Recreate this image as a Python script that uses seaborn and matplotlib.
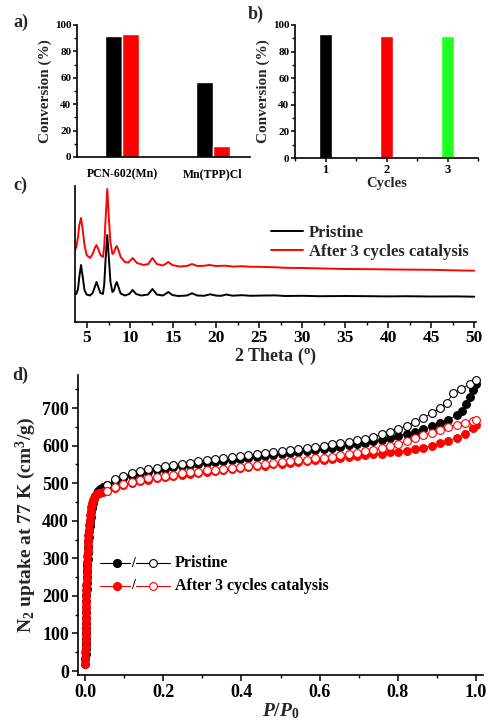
import numpy as np
import pandas as pd
import matplotlib
matplotlib.use("Agg")
import matplotlib.pyplot as plt
from matplotlib.ticker import MultipleLocator
import seaborn as sns

# ---------------- data ----------------
# panel a
catalysts = ["PCN-602(Mn)", "Mn(TPP)Cl"]
conv_black = [92, 57]
conv_red = [93, 8]

# panel b
cycles = ["1", "2", "3"]
cycle_conv = [93, 92, 92]

# panel c (PXRD, arbitrary intensity)
tt_pristine = [3.6, 3.75, 3.95, 4.1, 4.3, 4.5, 4.7, 4.95, 5.35, 5.65, 5.9, 6.1, 6.3, 6.55, 6.85,
               7.0, 7.15, 7.35, 7.55, 7.72, 7.95, 8.15, 8.3, 8.45, 8.65, 8.9, 9.4, 9.9, 10.3, 10.7,
               11.3, 12.1, 12.6, 13.1, 13.8, 14.1, 14.45, 14.9, 15.6, 16.6, 17.2, 17.8, 18.6,
               19.3, 20.0, 20.6, 21.2, 21.9, 23.0, 24.0, 25.0, 26.9, 28.0, 30.0, 32.0, 35.0,
               38.0, 40.0, 42.0, 45.0, 48.0, 50.0]
int_pristine = [28, 28, 33, 45, 57, 45, 32, 27.5, 26.5, 29, 35, 40, 35, 29, 28,
                38, 62, 87, 62, 40, 30, 32, 37, 40, 35, 28.5, 26.5, 28, 32, 28,
                26.5, 27.5, 33, 27.5, 26.5, 28, 30, 27, 26, 26.5, 28.7, 26.5, 26.2,
                27.7, 26.4, 26.2, 27.5, 26.3, 26.8, 26.2, 26.4, 26.6, 26.0, 26.2, 25.8, 26.0,
                25.8, 25.6, 25.8, 25.5, 25.6, 25.3]
tt_after = [3.6, 3.75, 3.95, 4.1, 4.3, 4.5, 4.7, 4.95, 5.35, 5.65, 5.9, 6.1, 6.3, 6.55, 6.85,
            7.0, 7.15, 7.35, 7.55, 7.72, 7.95, 8.15, 8.3, 8.45, 8.65, 8.9, 9.4, 9.8, 10.3, 10.8,
            11.6, 12.1, 12.6, 13.1, 13.8, 14.1, 14.45, 14.9, 15.7, 16.6, 17.2, 17.8, 18.6,
            19.2, 20.0, 21.1, 22.0, 23.0, 24.0, 25.0, 26.9, 28.0, 30.0, 32.0, 35.0,
            38.0, 40.0, 42.0, 45.0, 48.0, 50.0]
int_after = [72, 75, 85, 97, 104, 92, 77, 67, 64, 68, 74, 77, 73, 67, 65,
             76, 102, 133, 102, 79, 68, 70, 74, 76, 72, 65, 60, 59.5, 64, 59,
             57, 58, 64, 58, 56.5, 58, 60, 57, 55.5, 56, 58, 56, 56.2,
             57, 56, 56.3, 55.4, 55.8, 55.2, 55.2, 54.7, 54.2, 54.0, 53.6, 53.0,
             52.8, 52.6, 52.4, 52.2, 51.6, 51.3]

# panel d (N2 isotherms at 77 K)
p_ads_pristine = [0.0008, 0.001, 0.0012, 0.0014, 0.0016, 0.0018, 0.002, 0.0022, 0.0024, 0.0026,
                  0.0028, 0.003, 0.0033, 0.0036, 0.004, 0.0044, 0.0048, 0.0053, 0.0058, 0.0064,
                  0.007, 0.0078, 0.0086, 0.0095, 0.0105, 0.0118, 0.013, 0.0145, 0.016, 0.018,
                  0.02, 0.023, 0.026, 0.03, 0.034, 0.039, 0.045, 0.055,
                  0.077, 0.098, 0.119, 0.141, 0.162, 0.183, 0.204, 0.226, 0.247, 0.268, 0.290,
                  0.311, 0.332, 0.354, 0.375, 0.396, 0.418, 0.439, 0.460, 0.482, 0.503, 0.524,
                  0.546, 0.567, 0.588, 0.610, 0.631, 0.652, 0.674, 0.695, 0.716, 0.737, 0.759,
                  0.780, 0.801, 0.823, 0.844, 0.865, 0.887, 0.908, 0.929, 0.951, 0.965, 0.975,
                  0.985, 0.993, 1.0]
v_ads_pristine = [20, 32, 45, 58, 72, 86, 100, 114, 128, 142,
                  156, 170, 186, 202, 218, 234, 250, 266, 282, 298,
                  314, 330, 345, 358, 372, 386, 398, 411, 423, 435,
                  446, 457, 466, 474, 480, 485, 490, 495,
                  505, 513, 520, 526, 531, 535, 539, 542, 545, 548, 551,
                  553, 556, 559, 561, 564, 567, 570, 572, 575, 577, 580,
                  582, 585, 588, 591, 594, 597, 601, 604, 607, 611, 615,
                  620, 626, 632, 637, 643, 651, 660, 669, 681, 693, 710,
                  730, 748, 763]
p_des_pristine = [0.055, 0.077, 0.098, 0.119, 0.141, 0.162, 0.183, 0.204, 0.226, 0.247, 0.268,
                  0.290, 0.311, 0.332, 0.354, 0.375, 0.396, 0.418, 0.439, 0.460, 0.482, 0.503,
                  0.524, 0.546, 0.567, 0.588, 0.610, 0.631, 0.652, 0.674, 0.695, 0.716, 0.737,
                  0.759, 0.780, 0.801, 0.823, 0.844, 0.865, 0.887, 0.908, 0.925, 0.942, 0.963,
                  0.985, 1.0]
v_des_pristine = [495, 510, 518, 526, 532, 537, 541, 545, 549, 552, 555,
                  558, 561, 564, 567, 570, 572, 575, 578, 580, 583, 586,
                  588, 591, 594, 597, 600, 603, 606, 610, 614, 618, 623,
                  630, 637, 645, 653, 663, 674, 686, 700, 714, 740, 752,
                  764, 774]
p_ads_after = [0.0005, 0.0008, 0.001, 0.0012, 0.0014, 0.0016, 0.0018, 0.002, 0.0022, 0.0024,
               0.0026, 0.0028, 0.003, 0.0033, 0.0036, 0.004, 0.0044, 0.0048, 0.0053, 0.0058,
               0.0064, 0.007, 0.0078, 0.0086, 0.0095, 0.0105, 0.0118, 0.013, 0.0145, 0.016,
               0.018, 0.02, 0.023, 0.026, 0.03, 0.034, 0.039, 0.045, 0.055,
               0.077, 0.098, 0.119, 0.141, 0.162, 0.183, 0.204, 0.226, 0.247, 0.268, 0.290,
               0.311, 0.332, 0.354, 0.375, 0.396, 0.418, 0.439, 0.460, 0.482, 0.503, 0.524,
               0.546, 0.567, 0.588, 0.610, 0.631, 0.652, 0.674, 0.695, 0.716, 0.737, 0.759,
               0.780, 0.801, 0.823, 0.844, 0.865, 0.887, 0.908, 0.929, 0.951, 0.972, 0.993, 1.0]
v_ads_after = [20, 35, 50, 65, 80, 95, 110, 125, 140, 155,
               170, 185, 200, 215, 230, 245, 260, 275, 290, 305,
               320, 335, 350, 363, 376, 390, 402, 414, 425, 436,
               446, 454, 461, 466, 470, 473, 475, 476, 478,
               486, 494, 500, 505, 509, 513, 516, 519, 522, 525, 527,
               530, 532, 535, 538, 540, 543, 545, 547, 550, 552, 554,
               556, 559, 561, 563, 565, 567, 570, 572, 575, 577, 579,
               582, 584, 587, 590, 594, 600, 606, 613, 621, 632, 646, 654]
p_des_after = [0.055, 0.077, 0.098, 0.119, 0.141, 0.162, 0.183, 0.204, 0.226, 0.247, 0.268,
               0.290, 0.311, 0.332, 0.354, 0.375, 0.396, 0.418, 0.439, 0.460, 0.482, 0.503,
               0.524, 0.546, 0.567, 0.588, 0.610, 0.631, 0.652, 0.674, 0.695, 0.716, 0.737,
               0.759, 0.780, 0.801, 0.823, 0.844, 0.865, 0.887, 0.908, 0.929, 0.951, 0.972,
               0.993, 1.0]
v_des_after = [480, 490, 498, 503, 509, 513, 517, 520, 523, 526, 529,
               531, 534, 536, 539, 541, 544, 546, 548, 551, 553, 556,
               558, 561, 563, 566, 568, 571, 574, 578, 581, 585, 589,
               594, 600, 605, 612, 620, 627, 634, 641, 649, 656, 661,
               665, 667]

# ---------------- style ----------------
sns.set_theme(style="ticks")
plt.rcParams["font.family"] = ["Liberation Serif", "DejaVu Serif"]
plt.rcParams["font.weight"] = "bold"
plt.rcParams["axes.labelweight"] = "bold"
plt.rcParams["mathtext.fontset"] = "custom"
plt.rcParams["mathtext.rm"] = "Liberation Serif:bold"
plt.rcParams["mathtext.bf"] = "Liberation Serif:bold"
plt.rcParams["mathtext.it"] = "Liberation Serif:italic:bold"
plt.rcParams["axes.linewidth"] = 1.2
plt.rcParams["xtick.major.width"] = 1.1
plt.rcParams["ytick.major.width"] = 1.1
plt.rcParams["xtick.minor.width"] = 1.0
plt.rcParams["ytick.minor.width"] = 1.0
plt.rcParams["xtick.color"] = "black"
plt.rcParams["ytick.color"] = "black"
plt.rcParams["axes.edgecolor"] = "black"

RED = "#ff0000"
GREEN = "#22ff22"

fig = plt.figure(figsize=(4.88, 7.24), dpi=100)
W, H = 488.0, 724.0


def px_axes(l, t, r, b):
    return fig.add_axes([l / W, 1 - b / H, (r - l) / W, (b - t) / H])


axa = px_axes(77, 25, 250, 157)
axb = px_axes(295, 25, 478, 158)
axc = px_axes(75, 186, 476, 322)
axd = px_axes(78, 375, 483, 675)
for ax in (axa, axb, axc, axd):
    ax.set_facecolor("none")

# ---------------- panel a ----------------
df_a = pd.DataFrame({
    "catalyst": catalysts * 2,
    "conversion": conv_black + conv_red,
    "series": ["s1"] * len(catalysts) + ["s2"] * len(catalysts),
})
sns.barplot(data=df_a, x="catalyst", y="conversion", hue="series",
            palette=["black", RED], width=0.38, saturation=1, legend=False,
            ax=axa, errorbar=None)
axa.set_xlim(-0.495, 1.405)
axa.set_ylim(0, 100)
axa.yaxis.set_major_locator(MultipleLocator(20))
axa.yaxis.set_minor_locator(MultipleLocator(10))
axa.tick_params(axis="y", which="major", direction="out", length=3, labelsize=8, pad=1)
axa.tick_params(axis="y", which="minor", direction="out", length=2)
axa.tick_params(axis="x", length=0, labelsize=8.5, pad=8)
axa.set_xlabel("")
axa.set_ylabel("Conversion (%)", fontsize=11, labelpad=2)
for t in axa.get_xticklabels() + axa.get_yticklabels():
    t.set_fontweight("bold")

# ---------------- panel b ----------------
df_b = pd.DataFrame({"cycle": cycles, "conversion": cycle_conv})
sns.barplot(data=df_b, x="cycle", y="conversion", hue="cycle",
            palette=["black", RED, GREEN], width=0.21, saturation=1,
            legend=False, ax=axb, errorbar=None)
axb.set_xlim(-0.5, 2.5)
axb.set_ylim(0, 100)
axb.yaxis.set_major_locator(MultipleLocator(20))
axb.yaxis.set_minor_locator(MultipleLocator(10))
axb.set_xticks([-0.5, 0.5, 1.5, 2.5], minor=True)
axb.tick_params(axis="y", which="major", direction="out", length=3, labelsize=8, pad=1)
axb.tick_params(axis="y", which="minor", direction="out", length=2)
axb.tick_params(axis="x", which="major", direction="out", length=3, labelsize=9, pad=1)
axb.tick_params(axis="x", which="minor", direction="out", length=2)
axb.set_xlabel("Cycles", fontsize=10.5, labelpad=1)
axb.set_ylabel("Conversion (%)", fontsize=11, labelpad=2)
for t in axb.get_xticklabels() + axb.get_yticklabels():
    t.set_fontweight("bold")

# ---------------- panel c ----------------
sns.lineplot(x=tt_pristine, y=int_pristine, color="black", lw=1.4, ax=axc, label="Pristine")
sns.lineplot(x=tt_after, y=int_after, color=RED, lw=1.4, ax=axc, label="After 3 cycles catalysis")
axc.set_xlim(3.6, 50.2)
axc.set_ylim(0, 136)
axc.set_yticks([])
axc.xaxis.set_major_locator(MultipleLocator(5))
axc.xaxis.set_minor_locator(MultipleLocator(2.5))
axc.tick_params(axis="x", which="major", direction="out", length=4, labelsize=12.5, pad=2)
axc.tick_params(axis="x", which="minor", direction="out", length=2.5)
axc.set_xlabel(r"2 Theta ($^\mathrm{o}$)", fontsize=13, labelpad=0)
axc.set_ylabel("")
for t in axc.get_xticklabels():
    t.set_fontweight("bold")
leg = axc.legend(loc="center left", bbox_to_anchor=(0.489, 0.585), frameon=False,
                 fontsize=12, handlelength=1.9, handletextpad=0.35, labelspacing=0.2,
                 borderpad=0, borderaxespad=0)
for t in leg.get_texts():
    t.set_fontweight("bold")

# ---------------- panel d ----------------
mk = dict(marker="o", markersize=5.6, markeredgewidth=0.8, lw=0.6, sort=False)
sns.lineplot(x=p_ads_pristine, y=v_ads_pristine, color="black", markerfacecolor="black",
             markeredgecolor="black", ax=axd, **mk)
sns.lineplot(x=p_des_pristine, y=v_des_pristine, color="black", markerfacecolor="white",
             markeredgecolor="black", ax=axd, **mk)
sns.lineplot(x=p_ads_after, y=v_ads_after, color=RED, markerfacecolor=RED,
             markeredgecolor=RED, ax=axd, **mk)
sns.lineplot(x=p_des_after, y=v_des_after, color=RED, markerfacecolor="white",
             markeredgecolor=RED, ax=axd, **mk)
axd.set_xlim(-0.018, 1.018)
axd.set_ylim(-10.6, 788)
axd.xaxis.set_major_locator(MultipleLocator(0.2))
axd.xaxis.set_minor_locator(MultipleLocator(0.1))
axd.yaxis.set_major_locator(MultipleLocator(100))
axd.yaxis.set_minor_locator(MultipleLocator(50))
axd.tick_params(axis="both", which="major", direction="out", length=4.5, labelsize=13, pad=2)
axd.tick_params(axis="both", which="minor", direction="out", length=2.5)
axd.xaxis.set_major_formatter(matplotlib.ticker.FormatStrFormatter("%.1f"))
axd.set_xlabel(r"$\mathit{P/P_0}$", fontsize=14, labelpad=0)
axd.set_ylabel(r"N$_2$ uptake at 77 K (cm$^3$/g)", fontsize=14, labelpad=3)
for t in axd.get_xticklabels() + axd.get_yticklabels():
    t.set_fontweight("bold")

# custom legend for panel d (filled / open markers)
for row_y, col, lab in [(0.373, "black", "Pristine"), (0.298, RED, "After 3 cycles catalysis")]:
    axd.plot([0.054, 0.227], [row_y, row_y], transform=axd.transAxes, color=col, lw=0.8,
             clip_on=False)
    axd.plot([0.0956], [row_y], transform=axd.transAxes, marker="o", ms=5.6, color=col,
             mfc=col, mec=col, clip_on=False)
    axd.plot([0.184], [row_y], transform=axd.transAxes, marker="o", ms=5.6, color=col,
             mfc="white", mec=col, mew=0.8, clip_on=False)
    axd.text(0.1365, row_y, "/", transform=axd.transAxes, ha="center", va="center",
             fontsize=10, color="black", fontweight="bold",
             bbox=dict(facecolor="white", edgecolor="none", pad=0.3))
    axd.text(0.2395, row_y, lab, transform=axd.transAxes, ha="left", va="center",
             fontsize=11.5, fontweight="bold", color="black")

for ax in (axa, axb, axc, axd):
    sns.despine(ax=ax)

# panel labels
for x, y, s in [(13, 22, "a)"), (248, 14, "b)"), (13, 185, "c)"), (12, 375, "d)")]:
    fig.text(x / W, 1 - y / H, s, fontsize=13, fontweight="bold", va="center", ha="left")

fig.savefig("out.png", dpi=100, facecolor="white")
